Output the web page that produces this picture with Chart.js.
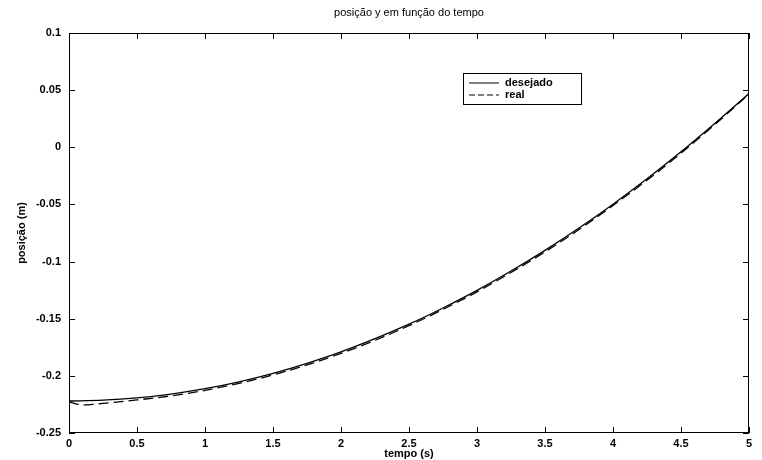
<!DOCTYPE html>
<html>
<head>
<meta charset="utf-8">
<script src="https://cdn.jsdelivr.net/npm/chart.js@4.4.1/dist/chart.umd.min.js"></script>
<style>
  html, body { margin: 0; padding: 0; background: #fff; }
  #wrap { width: 762px; height: 460px; }
</style>
</head>
<body>
<div id="wrap"><canvas id="grafico"></canvas></div>
<script>
// tempo (s)
const tempo = [0, 0.25, 0.5, 0.75, 1, 1.25, 1.5, 1.75, 2, 2.25, 2.5, 2.75, 3, 3.25, 3.5, 3.75, 4, 4.25, 4.5, 4.75, 5];
// posição y desejada (m)
const desejado = [-0.2220, -0.2213, -0.2193, -0.2159, -0.2112, -0.2052, -0.1978, -0.1890, -0.1790, -0.1675, -0.1548,
                  -0.1406, -0.1252, -0.1083, -0.0902, -0.0707, -0.0498, -0.0276, -0.0040, 0.0210, 0.0470];
// posição y real (m) - amostrada mais fina no início por causa da oscilação
const tempoReal = [0, 0.06, 0.12, 0.2, 0.3, 0.5, 0.75, 1, 1.25, 1.5, 1.75, 2, 2.25, 2.5, 2.75, 3, 3.25, 3.5, 3.75, 4, 4.25, 4.5, 4.75, 5];
const real = [-0.2228, -0.2248, -0.2254, -0.2246, -0.2236, -0.2211, -0.2175, -0.2127, -0.2066, -0.1992, -0.1904, -0.1804,
              -0.1689, -0.1561, -0.1419, -0.1265, -0.1096, -0.0915, -0.0720, -0.0510, -0.0288, -0.0052, 0.0200, 0.0465];
const ticksX = [0, 0.5, 1, 1.5, 2, 2.5, 3, 3.5, 4, 4.5, 5];
const ticksY = [-0.25, -0.2, -0.15, -0.1, -0.05, 0, 0.05, 0.1];

const fonte = 'Liberation Sans, Arial, sans-serif';
const rotulo = v => String(Math.round(v * 100) / 100);

// moldura, marcas internas, títulos e legenda no estilo do matlab
const moldura = {
  id: 'moldura',
  afterDraw(chart) {
    const c = chart.ctx, a = chart.chartArea;
    const sx = chart.scales.x, sy = chart.scales.y;
    c.save();
    c.strokeStyle = '#000';
    c.lineWidth = 1;
    c.strokeRect(a.left + 0.5, a.top + 0.5, a.right - a.left - 1, a.bottom - a.top - 1);
    c.beginPath();
    ticksX.forEach(v => {
      const px = Math.round(sx.getPixelForValue(v)) + 0.5;
      c.moveTo(px, a.bottom); c.lineTo(px, a.bottom - 6);
      c.moveTo(px, a.top); c.lineTo(px, a.top + 6);
    });
    ticksY.forEach(v => {
      const py = Math.round(sy.getPixelForValue(v)) + 0.5;
      c.moveTo(a.left, py); c.lineTo(a.left + 6, py);
      c.moveTo(a.right, py); c.lineTo(a.right - 6, py);
    });
    c.stroke();

    // títulos
    c.fillStyle = '#000';
    c.textAlign = 'center';
    c.textBaseline = 'middle';
    c.font = '11px ' + fonte;
    c.fillText('posição y em função do tempo', (a.left + a.right) / 2, 13);
    c.font = 'bold 11px ' + fonte;
    c.fillText('tempo (s)', (a.left + a.right) / 2, 454);
    c.save();
    c.translate(22, (a.top + a.bottom) / 2);
    c.rotate(-Math.PI / 2);
    c.fillText('posição (m)', 0, 0);
    c.restore();

    // legenda
    const lx = 463, ly = 73, lw = 118, lh = 31;
    c.fillStyle = '#fff';
    c.fillRect(lx, ly, lw, lh);
    c.strokeRect(lx + 0.5, ly + 0.5, lw, lh);
    chart.data.datasets.forEach((ds, i) => {
      const yy = ly + 10 + i * 12;
      c.beginPath();
      c.setLineDash(i === 1 ? [6, 3] : []);
      c.lineWidth = 1;
      c.moveTo(lx + 6, yy); c.lineTo(lx + 36, yy);
      c.stroke();
      c.setLineDash([]);
      c.fillStyle = '#000';
      c.textAlign = 'left';
      c.font = 'bold 11px ' + fonte;
      c.fillText(ds.label, lx + 42, yy);
    });
    c.restore();
  }
};

new Chart(document.getElementById('grafico'), {
  type: 'line',
  data: {
    datasets: [
      {
        label: 'desejado',
        data: tempo.map((t, i) => ({ x: t, y: desejado[i] })),
        borderColor: '#000',
        borderWidth: 1.3,
        pointRadius: 0,
        tension: 0.4,
        cubicInterpolationMode: 'monotone'
      },
      {
        label: 'real',
        data: tempoReal.map((t, i) => ({ x: t, y: real[i] })),
        borderColor: '#000',
        borderWidth: 1.3,
        borderDash: [10, 5],
        pointRadius: 0,
        tension: 0.4,
        cubicInterpolationMode: 'monotone'
      }
    ]
  },
  options: {
    responsive: true,
    maintainAspectRatio: false,
    animation: false,
    layout: { padding: { top: 33, right: 13, left: 0, bottom: 0 } },
    plugins: { legend: { display: false }, title: { display: false }, tooltip: { enabled: false } },
    scales: {
      x: {
        type: 'linear',
        min: 0, max: 5,
        afterFit: s => { s.height = 27; },
        afterBuildTicks: s => { s.ticks = ticksX.map(v => ({ value: v })); },
        grid: { display: false, drawTicks: false },
        border: { display: false },
        ticks: { color: '#000', font: { family: fonte, size: 11, weight: 'bold' }, padding: 4, maxRotation: 0,
                 callback: rotulo }
      },
      y: {
        min: -0.25, max: 0.1,
        afterFit: s => { s.width = 69; },
        afterBuildTicks: s => { s.ticks = ticksY.map(v => ({ value: v })); },
        grid: { display: false, drawTicks: false },
        border: { display: false },
        ticks: { color: '#000', font: { family: fonte, size: 11, weight: 'bold' }, padding: 8,
                 callback: rotulo }
      }
    }
  },
  plugins: [moldura]
});
</script>
</body>
</html>
